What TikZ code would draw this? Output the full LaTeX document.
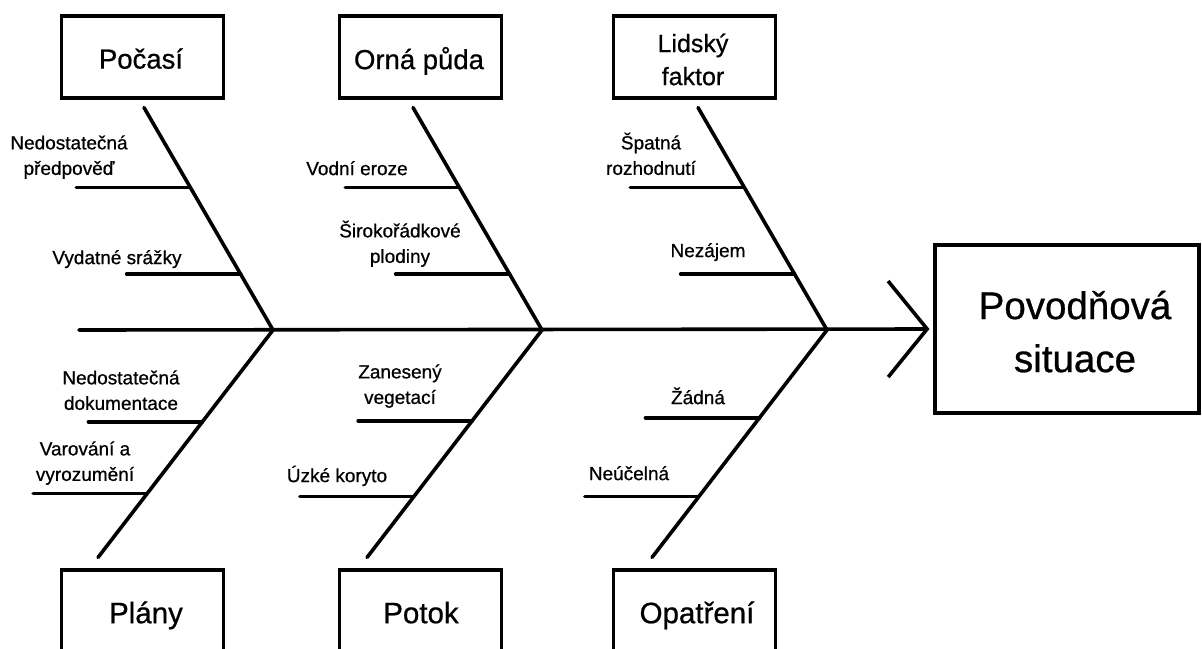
\documentclass[tikz,border=0pt]{standalone}
\usepackage{fontspec}
\setmainfont{Liberation Sans}[FakeBold=0.7]
\usetikzlibrary{arrows.meta,calc}
\begin{document}
\begin{tikzpicture}[x=1pt,y=-1pt,
  bone/.style={line width=3.6pt, line cap=round},
  box/.style={draw, line width=3.1pt, minimum width=162pt, minimum height=82pt, inner sep=0pt},
  bigbox/.style={draw, line width=3.1pt, minimum width=264pt, minimum height=168pt, inner sep=0pt},
  cattxt/.style={inner sep=0pt, align=center, font=\fontsize{27.5}{33}\selectfont},
  bottxt/.style={inner sep=0pt, align=center, font=\fontsize{29.5}{36}\selectfont},
  bigtxt/.style={inner sep=0pt, align=center, font=\fontsize{38.5}{53}\selectfont},
  lbl/.style={inner sep=0pt, align=center, font=\fontsize{19}{25.5}\selectfont},
]
\useasboundingbox (0,0) rectangle (1202,648);
\clip (0,0) rectangle (1202,648);

% effect box
\node[bigbox] (effect) at (1067,329) {};
\node[bigtxt] (effecttxt) at (1075,335) {\strut Povodňová\\\strut situace};

% category boxes
\node[box] (pocasibox) at (142.5,57) {};
\node[cattxt] (pocasi) at (141,62) {\strut Počasí};
\node[box] (pudabox) at (420.5,57) {};
\node[cattxt] (puda) at (419,62.5) {\strut Orná půda};
\node[box] (lidskybox) at (694.5,57) {};
\node[cattxt, font=\fontsize{25}{33}\selectfont] (lidsky) at (693,62) {\strut Lidský\\\strut faktor};

\node[box] (planybox) at (142.5,611) {};
\node[bottxt] (plany) at (146,616) {\strut Plány};
\node[box] (potokbox) at (420.5,611) {};
\node[bottxt] (potok) at (421,616) {\strut Potok};
\node[box] (opatrenibox) at (694.5,611) {};
\node[bottxt] (opatreni) at (697,616) {\strut Opatření};

% spine
\coordinate (tail) at (79,330);
\coordinate (j1) at (273,330);
\coordinate (j2) at (542,330);
\coordinate (j3) at (827,330);
\draw[bone, shorten >=4pt, -{Straight Barb[sharp, length=39pt, width=96pt]}] (tail) -- (effect.west);

% top bones
\coordinate (t1) at ($(pocasibox.south)+(1.5,8)$);
\coordinate (t2) at ($(pudabox.south)+(-7.5,8)$);
\coordinate (t3) at ($(lidskybox.south)+(3.5,8)$);
\draw[bone] (t1) -- (j1);
\draw[bone] (t2) -- (j2);
\draw[bone] (t3) -- (j3);

% bottom bones
\coordinate (b1) at ($(planybox.north)+(-44.5,-11)$);
\coordinate (b2) at ($(potokbox.north)+(-53.5,-11)$);
\coordinate (b3) at ($(opatrenibox.north)+(-42.5,-11)$);
\draw[bone] (j1) -- (b1);
\draw[bone] (j2) -- (b2);
\draw[bone] (j3) -- (b3);

% rib points on bones
\path (t1) -- (j1) coordinate[pos=0.3587] (p1a) coordinate[pos=0.7489] (p1b);
\path (t2) -- (j2) coordinate[pos=0.3587] (p2a) coordinate[pos=0.7489] (p2b);
\path (t3) -- (j3) coordinate[pos=0.3587] (p3a) coordinate[pos=0.7489] (p3b);
\path (j1) -- (b1) coordinate[pos=0.4035] (q1a) coordinate[pos=0.7193] (q1b);
\path (j2) -- (b2) coordinate[pos=0.3991] (q2a) coordinate[pos=0.7325] (q2b);
\path (j3) -- (b3) coordinate[pos=0.3860] (q3a) coordinate[pos=0.7325] (q3b);

\foreach \p in {p1a,p1b,p2a,p2b,p3a,p3b,q1a,q1b,q2a,q2b,q3a,q3b}
  \draw[bone] (\p) -- ++(-114,0);

% labels
\node[lbl] (l1a) at (69,157) {\strut Nedostatečná\\\strut předpověď};
\node[lbl] (l1b) at (117,259) {\strut Vydatné srážky};
\node[lbl] (l2a) at (357,170) {\strut Vodní eroze};
\node[lbl] (l2b) at (400,245) {\strut Širokořádkové\\\strut plodiny};
\node[lbl] (l3a) at (651,157) {\strut Špatná\\\strut rozhodnutí};
\node[lbl] (l3b) at (708,252) {\strut Nezájem};
\node[lbl] (m1a) at (121,392) {\strut Nedostatečná\\\strut dokumentace};
\node[lbl] (m1b) at (85,463) {\strut Varování a\\\strut vyrozumění};
\node[lbl] (m2a) at (400,386) {\strut Zanesený\\\strut vegetací};
\node[lbl] (m2b) at (337,477) {\strut Úzké koryto};
\node[lbl] (m3a) at (698,399) {\strut Žádná};
\node[lbl] (m3b) at (629,475) {\strut Neúčelná};
\end{tikzpicture}
\end{document}
